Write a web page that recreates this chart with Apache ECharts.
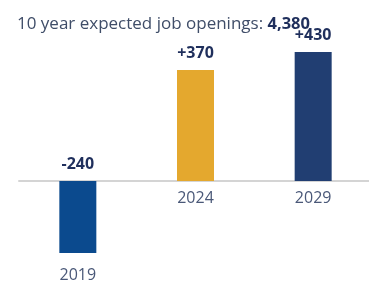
<!DOCTYPE html>
<html>
<head>
<meta charset="utf-8">
<script src="https://cdn.jsdelivr.net/npm/echarts@6/dist/echarts.min.js"></script>
<style>
  html, body { margin: 0; padding: 0; background: #fff; }
  #chart { width: 369px; height: 282px; }
</style>
</head>
<body>
<div id="chart"></div>
<script>
var years = ['2019', '2024', '2029'];
var changes = [-240, 370, 430];
var barColors = ['#0b4a8e', '#e4a82e', '#213e72'];
var totalOpenings = '4,380';

var chart = echarts.init(document.getElementById('chart'));

var option = {
  animation: false,
  title: {
    left: 12,
    top: 11,
    text: '{reg|10 year expected job openings: }{bold|' + totalOpenings + '}',
    textStyle: {
      fontWeight: 'normal',
      rich: {
        reg: { fontFamily: 'Open Sans', fontSize: 17, fontWeight: 'normal', color: '#3f4d68' },
        bold: { fontFamily: 'Open Sans', fontSize: 16.5, fontWeight: 'bold', color: '#1f2f5c' }
      }
    }
  },
  grid: { left: 19, right: -3, top: 52, bottom: 29, outerBoundsMode: 'none', containLabel: false },
  xAxis: {
    type: 'category',
    data: years,
    axisTick: { show: false },
    axisLine: { onZero: true, lineStyle: { color: '#d4d4d4', width: 2 } },
    axisLabel: {
      // labels sit under the zero line, not the grid bottom
      margin: -63,
      formatter: function (v, i) {
        return changes[i] < 0 ? '{low|' + v + '}' : '{hi|' + v + '}';
      },
      rich: {
        hi: { fontFamily: 'Open Sans', fontSize: 16, color: '#4a5878' },
        low: { fontFamily: 'Open Sans', fontSize: 16, color: '#4a5878', padding: [77, 0, 0, 0] }
      }
    }
  },
  yAxis: {
    type: 'value',
    min: -240,
    max: 430,
    show: false,
    splitLine: { show: false }
  },
  series: [{
    type: 'bar',
    barWidth: 37,
    data: changes.map(function (v, i) {
      return { value: v, itemStyle: { color: barColors[i] } };
    }),
    label: {
      show: true,
      position: 'top',
      distance: 9,
      fontFamily: 'Open Sans',
      fontSize: 16,
      fontWeight: 'bold',
      color: '#1f2f5c',
      formatter: function (p) { return (p.value > 0 ? '+' : '') + p.value; }
    }
  }]
};

chart.setOption(option);
</script>
</body>
</html>
